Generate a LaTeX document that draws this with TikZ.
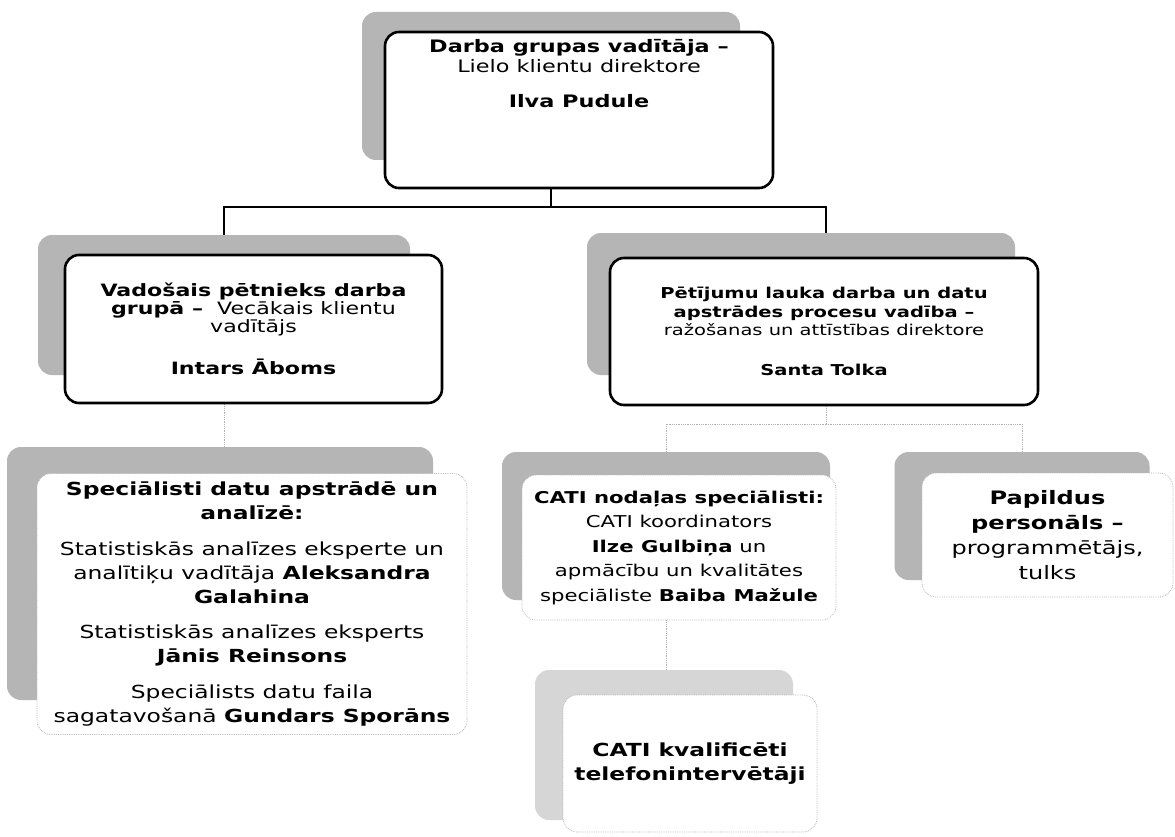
\documentclass[tikz,border=0pt]{standalone}
\usepackage{fontspec}
\setmainfont{DejaVu Sans}[FakeStretch=1.3]
\usetikzlibrary{positioning}
\usetikzlibrary{backgrounds}
\tikzset{
    headbox/.style = {rounded corners=14pt, line width=2.6pt, draw=black, fill=white, align=center, inner sep=0pt},
    subbox/.style = {rounded corners=14pt, line width=0.8pt, draw=gray!55, densely dotted, fill=white, align=center, inner sep=0pt},
    graybk/.style = {rounded corners=14pt, fill=gray!58, draw=none, inner sep=0pt},
    graybkl/.style = {rounded corners=14pt, fill=gray!32, draw=none, inner sep=0pt},
    edgen/.style = {-, line width=2pt, black},
    edged/.style = {-, line width=0.8pt, gray!60, densely dotted},
    txttop/.style = {font=\fontsize{17.2}{20.5}\selectfont},
    txtlead/.style = {font=\fontsize{17}{18}\selectfont},
    txtproc/.style = {font=\fontsize{15}{18.5}\selectfont},
    txtspec/.style = {font=\fontsize{18}{24.2}\selectfont},
    txtcati/.style = {font=\fontsize{16.3}{24.5}\selectfont},
    txtpap/.style = {font=\fontsize{18.5}{25}\selectfont}
}

\begin{document}
\begin{tikzpicture}[x=1pt, y=-1pt]
  \useasboundingbox (0,0) rectangle (1175,837);

  % top level
  \node[graybk, minimum width=378pt, minimum height=148pt] (topsh) at (551,86) {};
  \node[headbox, minimum width=388pt, minimum height=156pt,
    label={[txttop, align=center, anchor=north, yshift=-5pt]north:{\textbf{Darba grupas vadītāja –}\\Lielo klientu direktore\\[14pt]\textbf{Ilva Pudule}}}] (top) at (579,110) {};

  % second level
  \node[graybk, minimum width=372pt, minimum height=140pt] (leadsh) at (224,305) {};
  \node[headbox, txtlead, minimum width=377pt, minimum height=148pt] (lead) at (253.5,329)
    {\textbf{Vadošais pētnieks darba}\\\textbf{grupā –}\ \ Vecākais klientu\\vadītājs\\[22pt]\textbf{Intars Āboms}};
  \node[graybk, minimum width=428pt, minimum height=142pt] (procsh) at (801,304) {};
  \node[headbox, txtproc, minimum width=428pt, minimum height=147pt] (proc) at (824,331.5)
    {\textbf{Pētījumu lauka darba un datu}\\\textbf{apstrādes procesu vadība –}\\ražošanas un attīstības direktore\\[21pt]\textbf{Santa Tolka}};

  % third level
  \node[graybk, minimum width=426pt, minimum height=253pt] (specsh) at (220,573.5) {};
  \node[subbox, txtspec, minimum width=430pt, minimum height=261pt] (spec) at (252,604)
    {\textbf{Speciālisti datu apstrādē un}\\\textbf{analīzē:}\\[11pt]Statistiskās analīzes eksperte un\\analītiķu vadītāja \textbf{Aleksandra}\\\textbf{Galahina}\\[11pt]Statistiskās analīzes eksperts\\\textbf{Jānis Reinsons}\\[11pt]Speciālists datu faila\\sagatavošanā \textbf{Gundars Sporāns}};
  \node[graybk, minimum width=328pt, minimum height=148pt] (catish) at (666,526) {};
  \node[subbox, txtcati, minimum width=314pt, minimum height=145pt] (cati) at (679,547.5)
    {\textbf{CATI nodaļas speciālisti:}\\CATI koordinators\\\textbf{Ilze Gulbiņa} un\\apmācību un kvalitātes\\speciāliste \textbf{Baiba Mažule}};
  \node[graybk, minimum width=255pt, minimum height=128pt] (papsh) at (1022,516) {};
  \node[subbox, txtpap, minimum width=251pt, minimum height=124pt] (pap) at (1047.5,535)
    {\textbf{Papildus}\\\textbf{personāls –}\\programmētājs,\\tulks};

  % fourth level
  \node[graybkl, minimum width=258pt, minimum height=150pt] (telsh) at (664,745) {};
  \node[subbox, txtspec, minimum width=254pt, minimum height=137pt] (tel) at (690,763.5)
    {\textbf{CATI kvalificēti}\\\textbf{telefonintervētāji}};

  \begin{pgfonlayer}{background}
    \fill[white] (0,0) rectangle (1175,837);
    \coordinate (hubtop) at (551,207);
    \coordinate (hubproc) at (826,424);
    \draw[edgen] (top.south -| topsh) -- (hubtop);
    \draw[edgen] (hubtop) -| (hubproc |- procsh.north);
    \draw[edgen] (hubtop) -| (leadsh.north);
    \draw[edged] (leadsh |- lead.south) -- (leadsh |- specsh.north);
    \draw[edged] (hubproc |- proc.south) -- (hubproc);
    \draw[edged] (hubproc) -| (catish.north);
    \draw[edged] (hubproc) -| (papsh.north);
    \draw[edged] (catish |- cati.south) -- (catish |- telsh.north);
  \end{pgfonlayer}
\end{tikzpicture}
\end{document}
